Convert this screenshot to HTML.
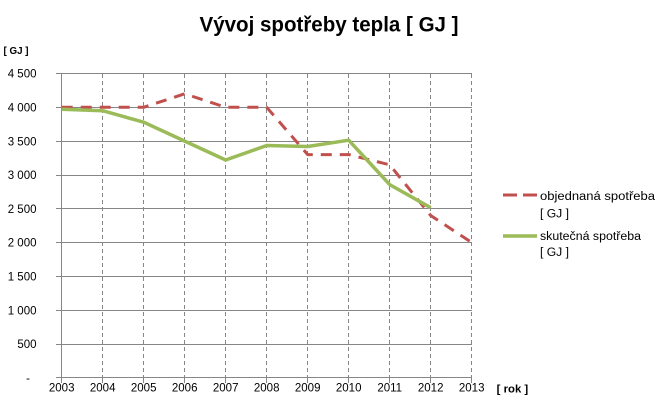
<!DOCTYPE html>
<html>
<head>
<meta charset="utf-8">
<style>
html,body{margin:0;padding:0;background:#fff;}
svg{display:block;}
text{font-family:"Liberation Sans",Arial,sans-serif;fill:#000;}
</style>
</head>
<body>
<svg width="663" height="407" viewBox="0 0 663 407" xmlns="http://www.w3.org/2000/svg">
<rect width="663" height="407" fill="#fff"/>
<!-- Title -->
<text x="199.5" y="31.7" font-size="21" font-weight="bold" textLength="259" lengthAdjust="spacingAndGlyphs">Vývoj spotřeby tepla [ GJ ]</text>
<!-- y-axis unit -->
<text x="3.5" y="54" font-size="10" font-weight="bold" textLength="25" lengthAdjust="spacingAndGlyphs">[ GJ ]</text>

<g stroke="#868686" stroke-width="1" shape-rendering="crispEdges">
  <!-- horizontal gridlines -->
  <line x1="56" y1="73.5" x2="472" y2="73.5"/>
  <line x1="56" y1="107.5" x2="472" y2="107.5"/>
  <line x1="56" y1="141.5" x2="472" y2="141.5"/>
  <line x1="56" y1="175.5" x2="472" y2="175.5"/>
  <line x1="56" y1="208.5" x2="472" y2="208.5"/>
  <line x1="56" y1="242.5" x2="472" y2="242.5"/>
  <line x1="56" y1="276.5" x2="472" y2="276.5"/>
  <line x1="56" y1="310.5" x2="472" y2="310.5"/>
  <line x1="56" y1="344.5" x2="472" y2="344.5"/>
  <line x1="56" y1="377.5" x2="472" y2="377.5"/>
  <!-- left axis -->
  <line x1="61.5" y1="73" x2="61.5" y2="383"/>
  <!-- bottom ticks -->
  <line x1="102.5" y1="377" x2="102.5" y2="383"/>
  <line x1="143.5" y1="377" x2="143.5" y2="383"/>
  <line x1="184.5" y1="377" x2="184.5" y2="383"/>
  <line x1="225.5" y1="377" x2="225.5" y2="383"/>
  <line x1="266.5" y1="377" x2="266.5" y2="383"/>
  <line x1="307.5" y1="377" x2="307.5" y2="383"/>
  <line x1="348.5" y1="377" x2="348.5" y2="383"/>
  <line x1="389.5" y1="377" x2="389.5" y2="383"/>
  <line x1="430.5" y1="377" x2="430.5" y2="383"/>
  <line x1="471.5" y1="377" x2="471.5" y2="383"/>
</g>
<g stroke="#868686" stroke-width="1" stroke-dasharray="4,3" shape-rendering="crispEdges">
  <line x1="102.5" y1="74" x2="102.5" y2="377"/>
  <line x1="143.5" y1="74" x2="143.5" y2="377"/>
  <line x1="184.5" y1="74" x2="184.5" y2="377"/>
  <line x1="225.5" y1="74" x2="225.5" y2="377"/>
  <line x1="266.5" y1="74" x2="266.5" y2="377"/>
  <line x1="307.5" y1="74" x2="307.5" y2="377"/>
  <line x1="348.5" y1="74" x2="348.5" y2="377"/>
  <line x1="389.5" y1="74" x2="389.5" y2="377"/>
  <line x1="430.5" y1="74" x2="430.5" y2="377"/>
  <line x1="471.5" y1="74" x2="471.5" y2="377"/>
</g>

<!-- y labels -->
<g font-size="11.5" text-anchor="end">
  <text x="36.5" y="77.7">4 500</text>
  <text x="36.5" y="111.5">4 000</text>
  <text x="36.5" y="145.3">3 500</text>
  <text x="36.5" y="179.1">3 000</text>
  <text x="36.5" y="212.9">2 500</text>
  <text x="36.5" y="246.7">2 000</text>
  <text x="36.5" y="280.5">1 500</text>
  <text x="36.5" y="314.3">1 000</text>
  <text x="36.5" y="348.1">500</text>
  <text x="30" y="381.9">-</text>
</g>

<!-- x labels -->
<g font-size="11.5" text-anchor="middle">
  <text x="61.7" y="391.7">2003</text>
  <text x="102.7" y="391.7">2004</text>
  <text x="143.7" y="391.7">2005</text>
  <text x="184.7" y="391.7">2006</text>
  <text x="225.7" y="391.7">2007</text>
  <text x="266.7" y="391.7">2008</text>
  <text x="307.7" y="391.7">2009</text>
  <text x="348.7" y="391.7">2010</text>
  <text x="389.7" y="391.7">2011</text>
  <text x="430.7" y="391.7">2012</text>
  <text x="471.7" y="391.7">2013</text>
</g>
<text x="496.7" y="392.5" font-size="11" font-weight="bold" textLength="31.5" lengthAdjust="spacingAndGlyphs">[ rok ]</text>

<!-- series: objednaná (red dashed) -->
<polyline fill="none" stroke="#C0504D" stroke-width="3" stroke-dasharray="11,8" stroke-linejoin="round"
  points="61.7,107.3 102.7,107.3 143.7,107.3 184.7,93.8 225.7,107.3 266.7,107.3 307.7,154.6 348.7,154.6 389.7,164.8 430.7,215.5 471.7,242.5"/>
<!-- series: skutečná (green) -->
<polyline fill="none" stroke="#9BBB59" stroke-width="3.5" stroke-linejoin="round"
  points="61.7,109.3 102.7,110.7 143.7,122.2 184.7,141.1 225.7,160.0 266.7,145.5 307.7,146.5 348.7,140.2 389.7,184.6 430.7,207.7"/>

<!-- legend -->
<line x1="503" y1="195" x2="537" y2="195" stroke="#C0504D" stroke-width="3" stroke-dasharray="14,6"/>
<text x="540" y="200" font-size="11.5" textLength="115" lengthAdjust="spacingAndGlyphs">objednaná spotřeba</text>
<text x="540" y="217.5" font-size="11.5" textLength="29" lengthAdjust="spacingAndGlyphs">[ GJ ]</text>
<line x1="503" y1="236" x2="537" y2="236" stroke="#9BBB59" stroke-width="3.5"/>
<text x="540" y="240" font-size="11.5" textLength="101" lengthAdjust="spacingAndGlyphs">skutečná spotřeba</text>
<text x="540" y="256" font-size="11.5" textLength="29" lengthAdjust="spacingAndGlyphs">[ GJ ]</text>
</svg>
</body>
</html>
